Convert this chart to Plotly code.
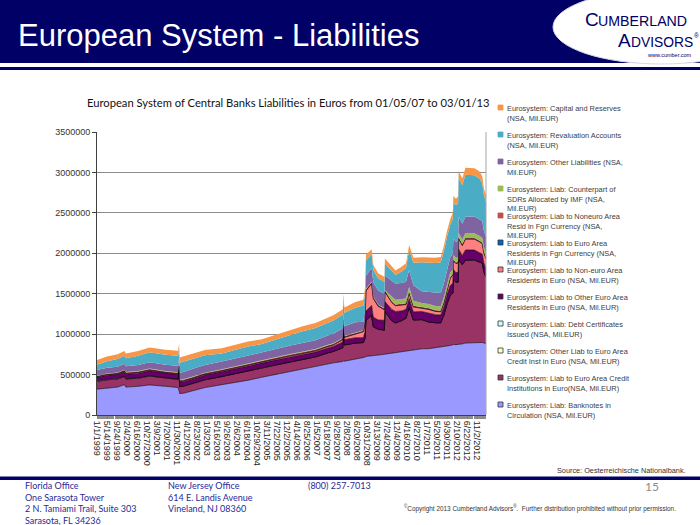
import plotly.graph_objects as go
from datetime import datetime

# ---------------- data (in bn EUR; converted to Mil.EUR) -------------
dates = ["1999-01-01","1999-05-14","1999-10-01","1999-12-31","2000-01-21","2000-06-30","2000-12-01",
         "2001-06-29","2001-12-14","2001-12-28","2002-01-04","2002-02-22","2002-06-28","2002-12-06",
         "2003-07-18","2004-01-09","2004-07-02","2004-12-31","2005-06-24","2005-12-30","2006-06-16",
         "2006-12-15","2007-06-08","2007-08-10","2007-12-14","2007-12-21","2008-01-04","2008-05-30",
         "2008-09-12","2008-10-03","2008-10-17","2008-12-31","2009-01-23","2009-03-27","2009-06-19",
         "2009-06-26","2009-09-25","2009-11-13","2010-01-29","2010-04-02","2010-05-14","2010-07-09",
         "2010-10-29","2011-01-28","2011-04-29","2011-07-08","2011-08-19","2011-09-30","2011-11-11",
         "2011-12-16","2011-12-23","2012-01-27","2012-02-24","2012-03-02","2012-04-20","2012-06-01",
         "2012-09-28","2012-12-07","2013-01-11","2013-02-01","2013-03-01"]

banknotes = [320,335,345,375,345,355,372,355,340,300,265,269,300,339,375,401,430,467,500,537,568,
             600,635,645,662,670,665,690,705,715,725,730,735,740,750,752,765,773,785,795,800,805,
             819,820,830,840,845,855,860,868,872,870,872,875,880,890,895,900,897,890,885]
credit_inst = [95,100,100,100,100,100,110,100,100,230,85,85,90,95,100,110,115,120,115,115,115,
               118,135,140,170,350,200,200,190,230,450,500,355,320,300,530,400,365,380,400,530,370,
               360,330,310,300,390,520,620,640,800,770,770,1050,980,1026,1020,990,980,880,820]
other_credit_inst = [1]*61
debt_cert = [8,6,5,4,4,3,3,2,2,2,2,2,2,2,1,1,1,1,1,0,0,
             0,0,0,0,0,0,0,0,0,0,0,0,0,0,0,0,0,0,0,0,0,
             0,0,0,0,0,0,0,0,0,0,0,0,0,0,0,0,0,0,0]
other_ea_res = [45,50,52,55,55,58,60,58,58,60,55,55,55,58,60,60,62,62,62,62,60,
                60,62,62,70,70,65,65,60,75,110,124,120,115,120,120,140,142,120,110,110,100,
                100,110,100,95,100,110,120,120,125,120,120,125,110,124,124,115,110,110,105]
non_ea_euro = [8,9,9,10,10,10,11,10,10,12,10,10,10,10,10,10,10,12,14,15,16,
               15,18,18,30,30,30,45,75,120,250,270,230,170,130,120,85,70,70,60,65,60,
               40,45,40,40,50,70,90,100,110,110,120,130,125,135,135,135,130,125,120]
ea_res_fgn = [1]*28 + [2,3] + [4]*31
non_ea_fgn = [4,6,8,9,10,11,12,12,12,12,12,12,12,12,12,12,12,12,12,13,14,
              14,14,14,14,14,14,15,10,15,16,16,15,12,12,12,12,11,11,11,12,12,
              12,12,12,12,12,12,12,12,12,12,12,12,12,10,10,10,10,10,10]
sdr = [6]*24 + [5]*12 + [58,60,60,62,62,62,50,52,52,52,55,55,55,56,56,56,56,56,58,62,60,58,58,58,58]
other_liab = [70,70,70,72,70,72,75,75,78,80,85,90,95,95,95,95,95,90,100,105,108,
              110,115,118,120,120,118,125,105,130,160,170,175,175,175,180,195,200,200,205,210,190,
              144,150,160,165,170,180,190,195,200,200,200,200,195,202,205,205,205,200,200]
reval = [65,80,95,100,100,115,125,125,125,115,125,130,130,120,100,110,115,105,118,135,145,
         150,160,165,170,170,165,180,200,200,190,170,155,150,150,150,120,105,140,170,250,280,
         360,360,370,380,400,400,400,430,450,450,470,480,475,517,510,505,470,440,430]
capital = [58,58,58,58,58,58,60,62,62,62,65,65,65,65,65,62,62,60,62,62,62,
           62,65,65,65,65,65,70,72,72,72,60,60,62,62,62,60,55,58,60,60,62,
           60,65,65,65,65,70,70,75,80,80,80,85,85,87,87,87,85,85,85]

series_names = [
    "Eurosystem: Liab: Banknotes in<br>Circulation (NSA, Mil.EUR)",
    "Eurosystem: Liab to Euro Area Credit<br>Institutions in Euro(NSA, Mil.EUR)",
    "Eurosystem: Other Liab to Euro Area<br>Credit Inst in Euro (NSA, Mil.EUR)",
    "Eurosystem: Liab: Debt Certificates<br>Issued (NSA, Mil.EUR)",
    "Eurosystem: Liab to Other Euro Area<br>Residents in Euro (NSA, Mil.EUR)",
    "Eurosystem: Liab to Non-euro Area<br>Residents in Euro (NSA, Mil.EUR)",
    "Eurosystem: Liab to Euro Area<br>Residents in Fgn Currency (NSA,<br>Mil.EUR)",
    "Eurosystem: Liab to Noneuro Area<br>Resid in Fgn Currency (NSA,<br>Mil.EUR)",
    "Eurosystem: Liab: Counterpart of<br>SDRs Allocated by IMF (NSA,<br>Mil.EUR)",
    "Eurosystem: Other Liabilities (NSA,<br>Mil.EUR)",
    "Eurosystem: Revaluation Accounts<br>(NSA, Mil.EUR)",
    "Eurosystem: Capital and Reserves<br>(NSA, Mil.EUR)",
]
series_values = [banknotes, credit_inst, other_credit_inst, debt_cert, other_ea_res, non_ea_euro,
                 ea_res_fgn, non_ea_fgn, sdr, other_liab, reval, capital]
series_colors = ["#9999FF", "#993366", "#FFFFCC", "#CCFFFF", "#660066", "#FF8080",
                 "#0066CC", "#C0504D", "#9BBB59", "#8064A2", "#4BACC6", "#F79646"]
series_outlined = [True, True, True, True, True, True, True, False, False, False, False, False]

tick_labels = ["1/1/1999","5/14/1999","9/24/1999","2/4/2000","6/16/2000","10/27/2000","3/9/2001",
               "7/20/2001","11/30/2001","4/12/2002","8/23/2002","1/3/2003","5/16/2003","9/26/2003",
               "2/6/2004","6/18/2004","10/29/2004","3/11/2005","7/22/2005","12/2/2005","4/14/2006",
               "8/25/2006","1/5/2007","5/18/2007","9/28/2007","2/8/2008","6/20/2008","10/31/2008",
               "3/13/2009","7/24/2009","12/4/2009","4/16/2010","8/27/2010","1/7/2011","5/20/2011",
               "9/30/2011","2/10/2012","6/22/2012","11/2/2012"]
tick_vals = [datetime.strptime(t, "%m/%d/%Y").strftime("%Y-%m-%d") for t in tick_labels]

# ---------------- layout geometry (pixels) ----------------
W, H = 700, 525
PL, PR, PT, PB = 97, 486, 132, 415


def px(x):
    return (x - PL) / (PR - PL)


def py(y):
    return (PB - y) / (PB - PT)


fig = go.Figure()
for name, vals, col, outl in zip(series_names, series_values, series_colors, series_outlined):
    fig.add_trace(go.Scatter(
        x=dates, y=[v * 1000 for v in vals], name=name.replace("<br>", " "),
        mode="lines", stackgroup="one", fillcolor=col,
        line=dict(color="#000000" if outl else col, width=0.6 if outl else 0),
        showlegend=False,
    ))

NAVY = "#000066"
shapes = [
    dict(type="rect", xref="paper", yref="paper", x0=px(0), x1=px(W), y0=py(63), y1=py(0),
         fillcolor=NAVY, line=dict(width=0), layer="below"),
    dict(type="circle", xref="paper", yref="paper", x0=px(553), x1=px(770), y0=py(64), y1=py(-10),
         fillcolor="white", line=dict(color="#d8d8e8", width=1), layer="below"),
    dict(type="rect", xref="paper", yref="paper", x0=px(0), x1=px(W), y0=py(70), y1=py(67),
         fillcolor=NAVY, line=dict(width=0), layer="below"),
    dict(type="rect", xref="paper", yref="paper", x0=px(0), x1=px(W), y0=py(480), y1=py(476.5),
         fillcolor=NAVY, line=dict(width=0), layer="below"),
    dict(type="line", xref="paper", yref="paper", x0=1, x1=1, y0=0, y1=1,
         line=dict(color="#a6a6a6", width=1)),
]

LOGO_FONT = "Liberation Sans, Arial"
annotations = [
    dict(text="European System - Liabilities", x=px(16), y=py(35), xanchor="left", yanchor="middle",
         font=dict(family="Liberation Sans, Arial", size=31, color="white")),
    dict(text="C", x=px(583), y=py(19), xanchor="left", yanchor="middle",
         font=dict(family=LOGO_FONT, size=19, color=NAVY)),
    dict(text="UMBERLAND", x=px(596), y=py(20.5), xanchor="left", yanchor="middle",
         font=dict(family=LOGO_FONT, size=14.2, color=NAVY)),
    dict(text="A", x=px(616), y=py(41), xanchor="left", yanchor="middle",
         font=dict(family=LOGO_FONT, size=19, color=NAVY)),
    dict(text="DVISORS", x=px(629), y=py(42.5), xanchor="left", yanchor="middle",
         font=dict(family=LOGO_FONT, size=13.8, color=NAVY)),
    dict(text="®", x=px(692), y=py(35), xanchor="left", yanchor="middle",
         font=dict(family=LOGO_FONT, size=6.5, color=NAVY)),
    dict(text="www.cumber.com", x=px(694), y=py(55), xanchor="right", yanchor="middle",
         font=dict(family="Liberation Sans, Arial", size=5.5, color=NAVY)),
    dict(text="European System of Central Banks Liabilities in Euros from 01/05/07 to 03/01/13",
         x=px(288), y=py(103), xanchor="center", yanchor="middle",
         font=dict(family="Lato, Carlito, sans-serif", size=11.2, color="#111111")),
    dict(text="Source: Oesterreichische Nationalbank.", x=px(688), y=py(470), xanchor="right",
         yanchor="middle", font=dict(family="Liberation Sans, Arial", size=7.3, color="#333333")),
    dict(text="15", x=px(652), y=py(486), xanchor="center", yanchor="middle",
         font=dict(family="Lato, sans-serif", size=12, color="#8c8c8c")),
    dict(text="<sup>©</sup>Copyright 2013 Cumberland Advisors<sup>®</sup>.  Further distribution prohibited without prior permission.",
         x=px(402), y=py(508), xanchor="left", yanchor="middle",
         font=dict(family="Liberation Sans, Arial", size=6.4, color="#333333")),
]

# footer address blocks (one multi-line text per column)
FOOT_SIZE = 9
FOOT_LINE = FOOT_SIZE * 1.3
FOOT_FIRST = 485.5
footer_cols = [
    (24, ["Florida Office", "One Sarasota Tower", "2 N. Tamiami Trail, Suite 303", "Sarasota, FL 34236"]),
    (167, ["New Jersey Office", "614 E. Landis Avenue", "Vineland, NJ 08360"]),
    (307, ["(800) 257-7013"]),
]
for x0, lines in footer_cols:
    yc = FOOT_FIRST + FOOT_LINE * (len(lines) - 1) / 2
    annotations.append(dict(text="<br>".join(lines), x=px(x0), y=py(yc), xanchor="left", yanchor="middle",
                            align="left", borderpad=0,
                            font=dict(family="Lato, Carlito, sans-serif", size=FOOT_SIZE, color="#2a2a96")))

# custom legend (top entry = last series)
leg_top = 107.5
leg_step = 27
for k, idx in enumerate(range(len(series_names) - 1, -1, -1)):
    yc = leg_top + k * leg_step
    shapes.append(dict(type="rect", xref="paper", yref="paper", x0=px(498), x1=px(503),
                       y0=py(yc + 2.5), y1=py(yc - 2.5), fillcolor=series_colors[idx],
                       line=dict(color="#333333" if series_outlined[idx] else series_colors[idx], width=0.8)))
    annotations.append(dict(text=series_names[idx], x=px(505), y=py(yc - 5.2), xanchor="left", yanchor="top",
                            align="left",
                            font=dict(family="Liberation Sans, Arial", size=7.4, color="#404040")))

for a in annotations:
    a.setdefault("xref", "paper")
    a.setdefault("yref", "paper")
    a.setdefault("showarrow", False)

fig.update_layout(
    width=W, height=H, autosize=False,
    margin=dict(l=PL, r=W - PR, t=PT, b=H - PB, pad=0),
    paper_bgcolor="white", plot_bgcolor="white",
    shapes=shapes, annotations=annotations,
    showlegend=False,
    xaxis=dict(type="date", range=[dates[0], dates[-1]], tickmode="array", tickvals=tick_vals,
               ticktext=tick_labels, tickangle=90, showgrid=False, zeroline=False,
               showline=True, linecolor="#404040", linewidth=1,
               ticks="outside", ticklen=3, tickcolor="#7f7f7f",
               minor=dict(dtick=14 * 86400000, ticks="outside", ticklen=3, tickcolor="#8c8c8c", tickwidth=0.6),
               tickfont=dict(family="Liberation Sans, Arial", size=9, color="#222222")),
    yaxis=dict(range=[0, 3500000], dtick=500000, tickformat="d", showgrid=True,
               gridcolor="#8c8c8c", gridwidth=1.2, zeroline=False, showline=True,
               linecolor="#404040", linewidth=1, ticks="outside", ticklen=4, tickcolor="#404040",
               tickfont=dict(family="Liberation Sans, Arial", size=9, color="#333333")),
)

fig.write_html("out.html", post_script="document.body.style.margin='0';",
               config={"displayModeBar": False})
